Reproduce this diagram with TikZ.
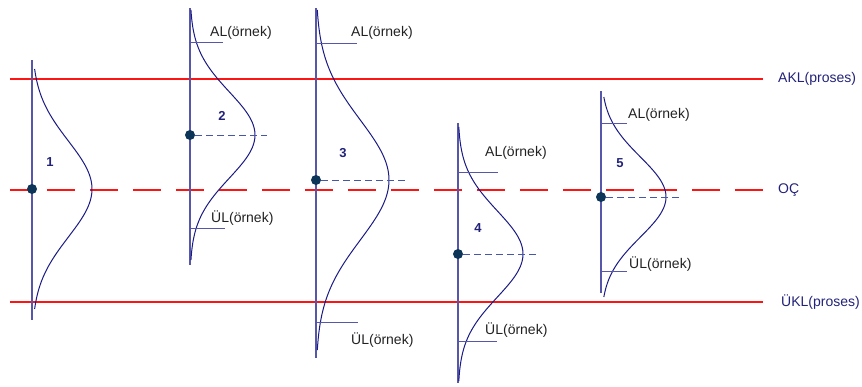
\documentclass[tikz,border=0pt]{standalone}
\usepackage{fontspec}
\setmainfont{Liberation Sans}
\usetikzlibrary{positioning,calc}
\definecolor{LimitRed}{HTML}{FF1414}
\definecolor{CurveNavy}{HTML}{1A1A85}
\definecolor{AxisBlue}{HTML}{5656AA}
\definecolor{DotNavy}{HTML}{0D3558}
\definecolor{LabelNavy}{HTML}{22227A}
\definecolor{MeanBlue}{HTML}{4656A8}
\definecolor{TextGray}{HTML}{222222}

\begin{document}
\begin{tikzpicture}[x=1pt, y=-1pt, font=\fontsize{14}{16}\selectfont,
    limit/.style={LimitRed, line width=1.3pt},
    axisline/.style={AxisBlue, line width=1.1pt},
    bell/.style={CurveNavy, line width=1pt},
    meanline/.style={MeanBlue, line width=0.9pt, dash pattern=on 7pt off 4pt},
    limtick/.style={AxisBlue, line width=1pt},
    dot/.style={circle, fill=DotNavy, minimum size=10pt, inner sep=0pt},
    numlabel/.style={text=LabelNavy, font=\fontsize{13}{15}\selectfont\bfseries},
    samplabel/.style={text=TextGray, anchor=west, inner sep=0pt},
    proclabel/.style={text=LabelNavy, anchor=west, inner sep=0pt}]
    \useasboundingbox (0,0) rectangle (862,386);

    \node[proclabel] (AKL) at (778,79) {AKL(proses)};
    \node[proclabel] (OC) at (778,190) {OÇ};
    \node[proclabel] (UKL) at (781,302) {ÜKL(proses)};
    \coordinate (AKLs) at (10,79);
    \coordinate (AKLe) at (763,79);
    \coordinate (OCs) at (10,190);
    \coordinate (OCe) at (763,190);
    \coordinate (UKLs) at (10,302);
    \coordinate (UKLe) at (763,302);
    \draw[limit] (AKLs) -- (AKLe);
    \draw[limit, dash pattern=on 28pt off 15pt, dash phase=6pt] (OCs) -- (OCe);
    \draw[limit] (UKLs) -- (UKLe);

    \foreach \n/\ax/\ya/\yb/\my/\amp/\sig/\half/\lx/\ly in {
      1/32/60/320/189/60/48/120/50/162,
      2/190/8/265/135/65/43/125/222/116,
      3/316/8/358/180/73/60/170/343/153,
      4/458/123/383/254/65/43/127/478/228,
      5/601/91/293/197/65/40/100/620/163} {
      \coordinate (top\n) at (\ax,\ya);
      \coordinate (bot\n) at (\ax,\yb);
      \draw[axisline] (top\n) -- (bot\n);
      \draw[bell] plot[domain=-\half:\half, samples=90, smooth]
        ({\ax+\amp*exp(-0.5*(\x/\sig)^2)}, {\my+\x});
      \node[dot] (m\n) at (\ax,\my) {};
      \node[numlabel] (n\n) at (\lx,\ly) {\n};
    }

    \foreach \n/\len in {2/77, 3/89, 4/80, 5/79} {
      \path (m\n.center) ++(\len,0) coordinate (me\n);
      \draw[meanline] (m\n) -- (me\n);
    }

    \foreach \n/\ax/\ta/\la/\xa/\ya/\tu/\lu/\xu/\yu in {
      2/190/42/33/210/33/228/35/211/218,
      3/316/43/41/351/33/322/42/351/340,
      4/458/172/40/485/153/341/39/485/330,
      5/601/123/26/628/115/271/26/629/264} {
      \coordinate (ala\n) at (\ax,\ta);
      \path (ala\n) ++(\la,0) coordinate (alb\n);
      \coordinate (ula\n) at (\ax,\tu);
      \path (ula\n) ++(\lu,0) coordinate (ulb\n);
      \draw[limtick] (ala\n) -- (alb\n);
      \draw[limtick] (ula\n) -- (ulb\n);
      \node[samplabel] (al\n) at (\xa,\ya) {AL(örnek)};
      \node[samplabel] (ul\n) at (\xu,\yu) {ÜL(örnek)};
    }
  \end{tikzpicture}
\end{document}
